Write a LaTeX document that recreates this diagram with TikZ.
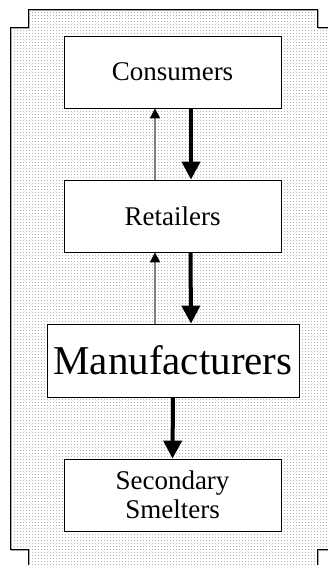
\documentclass[tikz,border=0pt]{standalone}
\usepackage{fontspec}
\setmainfont{Liberation Serif}
\usetikzlibrary{arrows.meta,patterns,shadows}

\pgfdeclarepatternformonly{finedots}{\pgfpointorigin}{\pgfpoint{2.7pt}{2.7pt}}{\pgfpoint{2.7pt}{2.7pt}}{\pgfpathrectangle{\pgfpointorigin}{\pgfpoint{1pt}{1pt}}\pgfusepath{fill}}

\begin{document}
\begin{tikzpicture}[x=1pt,y=1pt,yscale=-1,xscale=1,
  chainbox/.style={draw=black,line width=0.8pt,fill=white,align=center,
    minimum width=217pt,minimum height=72pt,inner sep=0pt,
    font=\fontsize{27}{29}\selectfont,
    drop shadow={shadow xshift=1.2pt,shadow yshift=-1.2pt,fill=gray!70,opacity=1}},
  bigbox/.style={chainbox,minimum width=252pt,minimum height=73pt,
    font=\fontsize{41}{46}\selectfont},
  backflow/.style={draw=gray,line width=1.8pt,-{Triangle[width=10pt,length=10pt,black]}},
  mainflow/.style={draw=black,line width=4pt,-{Triangle[width=18pt,length=18pt]}}]
\useasboundingbox (0,0) rectangle (328,565);
\clip (0,0) rectangle (328,565);

%Shape: Frame with notched corners
\draw [gray!70,line width=1pt,shift={(1.2,1.2)}] (28,580) -- (28,549) -- (10.7,549) -- (10.7,27) -- (28,27) -- (28,9) -- (317,9) -- (317,27) -- (345,27) ;
\draw [gray!70,line width=1pt,shift={(1.2,1.2)}] (317,580) -- (317,549) -- (345,549) ;
\path [pattern=finedots,pattern color=gray!60] (28,580) -- (28,549) -- (10.7,549) -- (10.7,27) -- (28,27) -- (28,9) -- (317,9) -- (317,27) -- (345,27) -- (345,549) -- (317,549) -- (317,580) -- cycle ;
\draw [black,line width=1pt] (28,580) -- (28,549) -- (10.7,549) -- (10.7,27) -- (28,27) -- (28,9) -- (317,9) -- (317,27) -- (345,27) ;
\draw [black,line width=1pt] (317,580) -- (317,549) -- (345,549) ;

% Text Node
\node [chainbox] (con) at (172.5,72) {Consumers};
% Text Node
\node [chainbox] (ret) at (172.5,216) {Retailers};
% Text Node
\node [bigbox] (man) at (173,360.5) {Manufacturers};
% Text Node
\node [chainbox] (sec) at (172.5,495) {Secondary\\Smelters};

%Straight Lines
\draw [backflow] ([xshift=-17.5]ret.north) -- ([xshift=-17.5]con.south) ;
\draw [mainflow] ([xshift=18.5]con.south) -- ([xshift=18.5]ret.north) ;
\draw [backflow] ([xshift=-18]man.north) -- ([xshift=-17.5]ret.south) ;
\draw [mainflow] ([xshift=18]ret.south) -- ([xshift=18]man.north) ;
\draw [mainflow] (man.south) -- (sec.north) ;

\end{tikzpicture}
\end{document}
